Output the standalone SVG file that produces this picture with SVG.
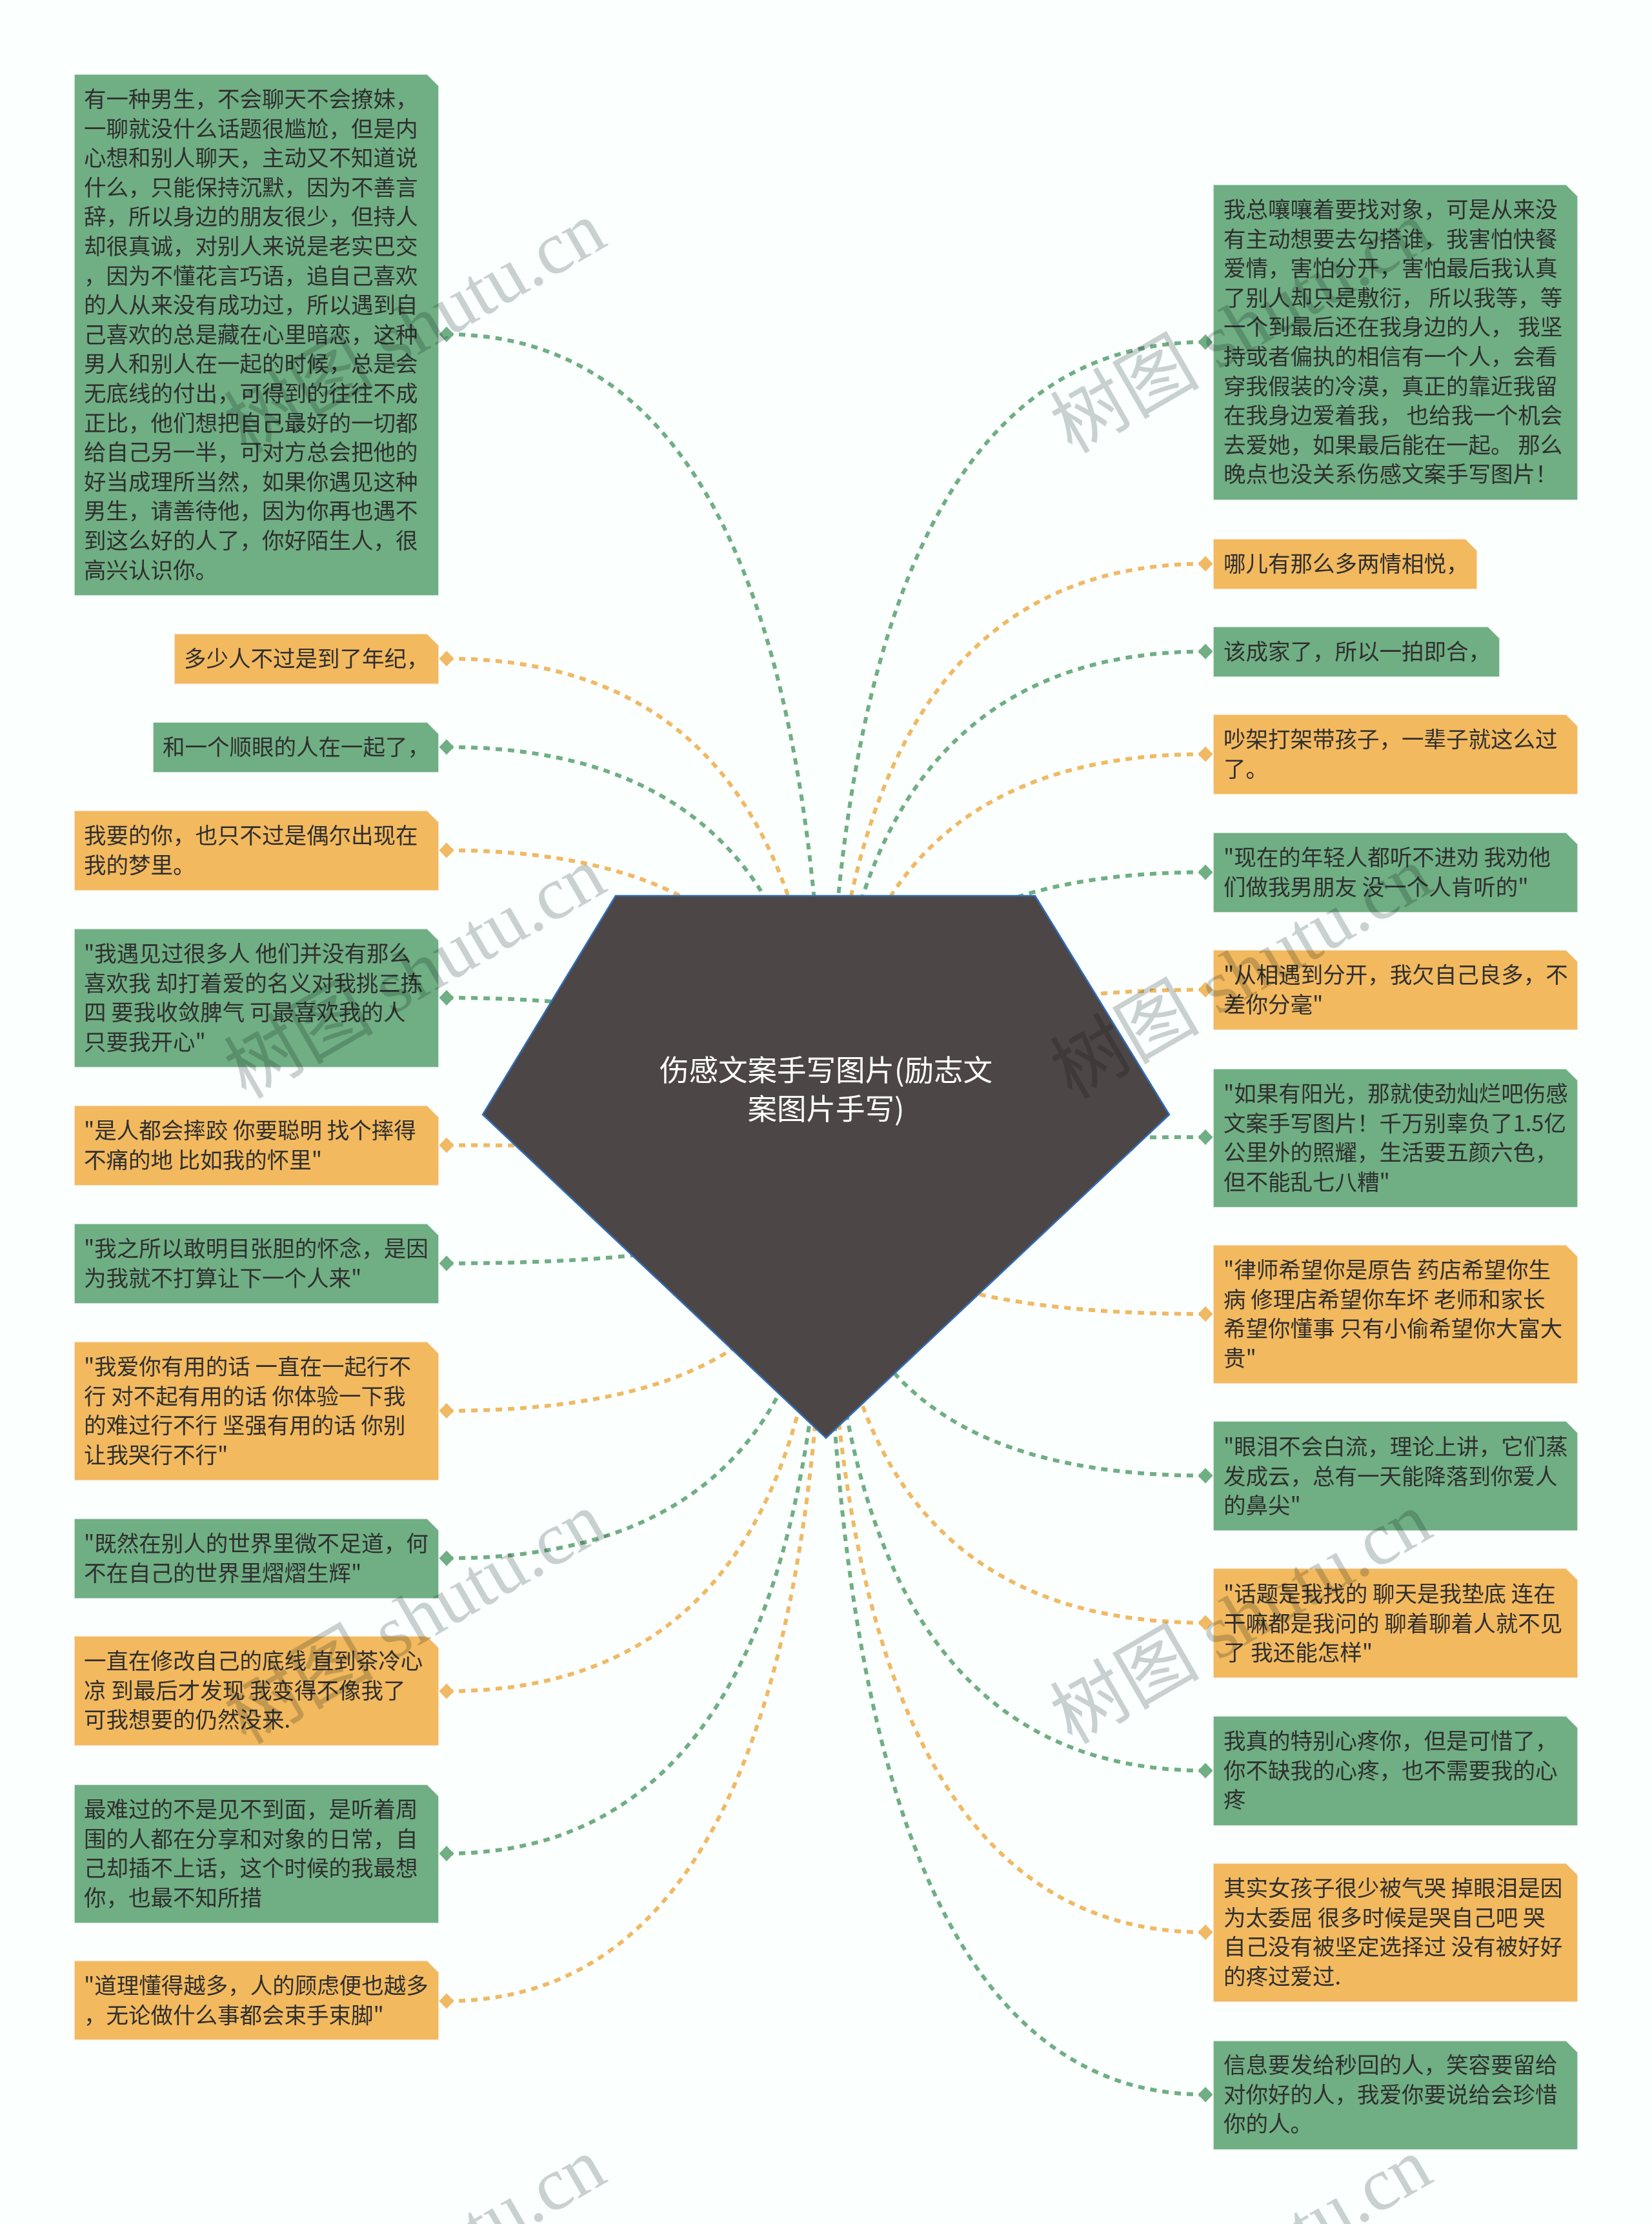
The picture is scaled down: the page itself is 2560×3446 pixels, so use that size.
<svg xmlns="http://www.w3.org/2000/svg" width="2560" height="3446" viewBox="0 0 2560 3446">
<style>
text{font-family:"Noto Sans CJK SC","Liberation Sans",sans-serif}
.t{font-size:34.5px;fill:#2f2f2f}
.g{fill:#70ae84;stroke:#f1f6f3;stroke-width:1.5}
.o{fill:#f2b95f;stroke:#f9f4ea;stroke-width:1.5}
.c{fill:none;stroke-width:6;stroke-dasharray:10 9}
.cg{stroke:#70ae84}
.co{stroke:#f0b964}
.title{font-size:45.5px;fill:#fff;text-anchor:middle}
.wm{font-family:"Liberation Serif","Noto Sans CJK SC",serif;font-size:116px;fill:#cdd1d1;mix-blend-mode:multiply}
</style>
<defs>
<marker id="dg" markerUnits="userSpaceOnUse" markerWidth="24" markerHeight="26" refX="12" refY="13" orient="0"><polygon points="0.5,13 12,1 23.5,13 12,25" fill="#70ae84"/></marker>
<marker id="do" markerUnits="userSpaceOnUse" markerWidth="24" markerHeight="26" refX="12" refY="13" orient="0"><polygon points="0.5,13 12,1 23.5,13 12,25" fill="#f0b964"/></marker>
</defs>
<rect width="2560" height="3446" fill="#fbfffe"/>
<g id="connectors">
<path class="c cg" marker-start="url(#dg)" d="M692 518Q1280 518 1280 1807"/>
<path class="c co" marker-start="url(#do)" d="M692 1020.5Q1280 1020.5 1280 1807"/>
<path class="c cg" marker-start="url(#dg)" d="M692 1157.5Q1280 1157.5 1280 1807"/>
<path class="c co" marker-start="url(#do)" d="M692 1317.5Q1280 1317.5 1280 1807"/>
<path class="c cg" marker-start="url(#dg)" d="M692 1546Q1280 1546 1280 1807"/>
<path class="c co" marker-start="url(#do)" d="M692 1774.5Q1280 1774.5 1280 1807"/>
<path class="c cg" marker-start="url(#dg)" d="M692 1957.5Q1280 1957.5 1280 1807"/>
<path class="c co" marker-start="url(#do)" d="M692 2186Q1280 2186 1280 1807"/>
<path class="c cg" marker-start="url(#dg)" d="M692 2414.5Q1280 2414.5 1280 1807"/>
<path class="c co" marker-start="url(#do)" d="M692 2620.5Q1280 2620.5 1280 1807"/>
<path class="c cg" marker-start="url(#dg)" d="M692 2872Q1280 2872 1280 1807"/>
<path class="c co" marker-start="url(#do)" d="M692 3100.5Q1280 3100.5 1280 1807"/>
<path class="c cg" marker-start="url(#dg)" d="M1868 530Q1280 530 1280 1807"/>
<path class="c co" marker-start="url(#do)" d="M1868 873.5Q1280 873.5 1280 1807"/>
<path class="c cg" marker-start="url(#dg)" d="M1868 1009.5Q1280 1009.5 1280 1807"/>
<path class="c co" marker-start="url(#do)" d="M1868 1168.5Q1280 1168.5 1280 1807"/>
<path class="c cg" marker-start="url(#dg)" d="M1868 1351.5Q1280 1351.5 1280 1807"/>
<path class="c co" marker-start="url(#do)" d="M1868 1533.5Q1280 1533.5 1280 1807"/>
<path class="c cg" marker-start="url(#dg)" d="M1868 1762Q1280 1762 1280 1807"/>
<path class="c co" marker-start="url(#do)" d="M1868 2036Q1280 2036 1280 1807"/>
<path class="c cg" marker-start="url(#dg)" d="M1868 2286.5Q1280 2286.5 1280 1807"/>
<path class="c co" marker-start="url(#do)" d="M1868 2514.5Q1280 2514.5 1280 1807"/>
<path class="c cg" marker-start="url(#dg)" d="M1868 2743.5Q1280 2743.5 1280 1807"/>
<path class="c co" marker-start="url(#do)" d="M1868 2994Q1280 2994 1280 1807"/>
<path class="c cg" marker-start="url(#dg)" d="M1868 3245.5Q1280 3245.5 1280 1807"/>
</g>
<g id="center">
<polygon points="954,1388 1604,1388 1812,1727 1280,2228 748,1727" fill="#4d4646" stroke="#2f6dbc" stroke-width="2.5"/>
<text class="title"><tspan x="1280" y="1675">伤感文案手写图片(励志文</tspan><tspan x="1280" y="1735">案图片手写)</tspan></text>
</g>
<g id="l1"><polygon class="g" points="115,115 662,115 680,133 680,923 115,923"/>
<text class="t"><tspan x="130" y="166">有一种男生，不会聊天不会撩妹，</tspan><tspan x="130" dy="45.6">一聊就没什么话题很尴尬，但是内</tspan><tspan x="130" dy="45.6">心想和别人聊天，主动又不知道说</tspan><tspan x="130" dy="45.6">什么，只能保持沉默，因为不善言</tspan><tspan x="130" dy="45.6">辞，所以身边的朋友很少，但持人</tspan><tspan x="130" dy="45.6">却很真诚，对别人来说是老实巴交</tspan><tspan x="130" dy="45.6">，因为不懂花言巧语，追自己喜欢</tspan><tspan x="130" dy="45.6">的人从来没有成功过，所以遇到自</tspan><tspan x="130" dy="45.6">己喜欢的总是藏在心里暗恋，这种</tspan><tspan x="130" dy="45.6">男人和别人在一起的时候，总是会</tspan><tspan x="130" dy="45.6">无底线的付出，可得到的往往不成</tspan><tspan x="130" dy="45.6">正比，他们想把自己最好的一切都</tspan><tspan x="130" dy="45.6">给自己另一半，可对方总会把他的</tspan><tspan x="130" dy="45.6">好当成理所当然，如果你遇见这种</tspan><tspan x="130" dy="45.6">男生，请善待他，因为你再也遇不</tspan><tspan x="130" dy="45.6">到这么好的人了，你好陌生人，很</tspan><tspan x="130" dy="45.6">高兴认识你。</tspan></text></g>
<g id="l2"><polygon class="o" points="270,982 662,982 680,1000 680,1060 270,1060"/>
<text class="t"><tspan x="285" y="1033">多少人不过是到了年纪，</tspan></text></g>
<g id="l3"><polygon class="g" points="237,1119 662,1119 680,1137 680,1197 237,1197"/>
<text class="t"><tspan x="252" y="1170">和一个顺眼的人在一起了，</tspan></text></g>
<g id="l4"><polygon class="o" points="115,1256 662,1256 680,1274 680,1380 115,1380"/>
<text class="t"><tspan x="130" y="1307">我要的你，也只不过是偶尔出现在</tspan><tspan x="130" dy="45.6">我的梦里。</tspan></text></g>
<g id="l5"><polygon class="g" points="115,1439 662,1439 680,1457 680,1654 115,1654"/>
<text class="t"><tspan x="130" y="1490">"我遇见过很多人 他们并没有那么</tspan><tspan x="130" dy="45.6">喜欢我 却打着爱的名义对我挑三拣</tspan><tspan x="130" dy="45.6">四 要我收敛脾气 可最喜欢我的人</tspan><tspan x="130" dy="45.6">只要我开心"</tspan></text></g>
<g id="l6"><polygon class="o" points="115,1713 662,1713 680,1731 680,1837 115,1837"/>
<text class="t"><tspan x="130" y="1764">"是人都会摔跤 你要聪明 找个摔得</tspan><tspan x="130" dy="45.6">不痛的地 比如我的怀里"</tspan></text></g>
<g id="l7"><polygon class="g" points="115,1896 662,1896 680,1914 680,2020 115,2020"/>
<text class="t"><tspan x="130" y="1947">"我之所以敢明目张胆的怀念，是因</tspan><tspan x="130" dy="45.6">为我就不打算让下一个人来"</tspan></text></g>
<g id="l8"><polygon class="o" points="115,2079 662,2079 680,2097 680,2294 115,2294"/>
<text class="t"><tspan x="130" y="2130">"我爱你有用的话 一直在一起行不</tspan><tspan x="130" dy="45.6">行 对不起有用的话 你体验一下我</tspan><tspan x="130" dy="45.6">的难过行不行 坚强有用的话 你别</tspan><tspan x="130" dy="45.6">让我哭行不行"</tspan></text></g>
<g id="l9"><polygon class="g" points="115,2353 662,2353 680,2371 680,2477 115,2477"/>
<text class="t"><tspan x="130" y="2404">"既然在别人的世界里微不足道，何</tspan><tspan x="130" dy="45.6">不在自己的世界里熠熠生辉"</tspan></text></g>
<g id="l10"><polygon class="o" points="115,2535 662,2535 680,2553 680,2705 115,2705"/>
<text class="t"><tspan x="130" y="2586">一直在修改自己的底线 直到茶冷心</tspan><tspan x="130" dy="45.6">凉 到最后才发现 我变得不像我了</tspan><tspan x="130" dy="45.6">可我想要的仍然没来.</tspan></text></g>
<g id="l11"><polygon class="g" points="115,2765 662,2765 680,2783 680,2980 115,2980"/>
<text class="t"><tspan x="130" y="2816">最难过的不是见不到面，是听着周</tspan><tspan x="130" dy="45.6">围的人都在分享和对象的日常，自</tspan><tspan x="130" dy="45.6">己却插不上话，这个时候的我最想</tspan><tspan x="130" dy="45.6">你，也最不知所措</tspan></text></g>
<g id="l12"><polygon class="o" points="115,3038 662,3038 680,3056 680,3161 115,3161"/>
<text class="t"><tspan x="130" y="3089">"道理懂得越多，人的顾虑便也越多</tspan><tspan x="130" dy="45.6">，无论做什么事都会束手束脚"</tspan></text></g>
<g id="r1"><polygon class="g" points="1880,286 2427,286 2445,304 2445,775 1880,775"/>
<text class="t"><tspan x="1896" y="337">我总嚷嚷着要找对象，可是从来没</tspan><tspan x="1896" dy="45.6">有主动想要去勾搭谁，我害怕快餐</tspan><tspan x="1896" dy="45.6">爱情，害怕分开，害怕最后我认真</tspan><tspan x="1896" dy="45.6">了别人却只是敷衍， 所以我等，等</tspan><tspan x="1896" dy="45.6">一个到最后还在我身边的人， 我坚</tspan><tspan x="1896" dy="45.6">持或者偏执的相信有一个人，会看</tspan><tspan x="1896" dy="45.6">穿我假装的冷漠，真正的靠近我留</tspan><tspan x="1896" dy="45.6">在我身边爱着我， 也给我一个机会</tspan><tspan x="1896" dy="45.6">去爱她，如果最后能在一起。 那么</tspan><tspan x="1896" dy="45.6">晚点也没关系伤感文案手写图片！</tspan></text></g>
<g id="r2"><polygon class="o" points="1880,835 2271,835 2289,853 2289,913 1880,913"/>
<text class="t"><tspan x="1896" y="886">哪儿有那么多两情相悦，</tspan></text></g>
<g id="r3"><polygon class="g" points="1880,971 2306,971 2324,989 2324,1049 1880,1049"/>
<text class="t"><tspan x="1896" y="1022">该成家了，所以一拍即合，</tspan></text></g>
<g id="r4"><polygon class="o" points="1880,1107 2427,1107 2445,1125 2445,1231 1880,1231"/>
<text class="t"><tspan x="1896" y="1158">吵架打架带孩子，一辈子就这么过</tspan><tspan x="1896" dy="45.6">了。</tspan></text></g>
<g id="r5"><polygon class="g" points="1880,1290 2427,1290 2445,1308 2445,1414 1880,1414"/>
<text class="t"><tspan x="1896" y="1341">"现在的年轻人都听不进劝 我劝他</tspan><tspan x="1896" dy="45.6">们做我男朋友 没一个人肯听的"</tspan></text></g>
<g id="r6"><polygon class="o" points="1880,1472 2427,1472 2445,1490 2445,1596 1880,1596"/>
<text class="t"><tspan x="1896" y="1523">"从相遇到分开，我欠自己良多，不</tspan><tspan x="1896" dy="45.6">差你分毫"</tspan></text></g>
<g id="r7"><polygon class="g" points="1880,1656 2427,1656 2445,1674 2445,1871 1880,1871"/>
<text class="t"><tspan x="1896" y="1707">"如果有阳光，那就使劲灿烂吧伤感</tspan><tspan x="1896" dy="45.6">文案手写图片！千万别辜负了1.5亿</tspan><tspan x="1896" dy="45.6">公里外的照耀，生活要五颜六色，</tspan><tspan x="1896" dy="45.6">但不能乱七八糟"</tspan></text></g>
<g id="r8"><polygon class="o" points="1880,1929 2427,1929 2445,1947 2445,2144 1880,2144"/>
<text class="t"><tspan x="1896" y="1980">"律师希望你是原告 药店希望你生</tspan><tspan x="1896" dy="45.6">病 修理店希望你车坏 老师和家长</tspan><tspan x="1896" dy="45.6">希望你懂事 只有小偷希望你大富大</tspan><tspan x="1896" dy="45.6">贵"</tspan></text></g>
<g id="r9"><polygon class="g" points="1880,2202 2427,2202 2445,2220 2445,2372 1880,2372"/>
<text class="t"><tspan x="1896" y="2254">"眼泪不会白流，理论上讲，它们蒸</tspan><tspan x="1896" dy="45.6">发成云，总有一天能降落到你爱人</tspan><tspan x="1896" dy="45.6">的鼻尖"</tspan></text></g>
<g id="r10"><polygon class="o" points="1880,2430 2427,2430 2445,2448 2445,2600 1880,2600"/>
<text class="t"><tspan x="1896" y="2482">"话题是我找的 聊天是我垫底 连在</tspan><tspan x="1896" dy="45.6">干嘛都是我问的 聊着聊着人就不见</tspan><tspan x="1896" dy="45.6">了 我还能怎样"</tspan></text></g>
<g id="r11"><polygon class="g" points="1880,2659 2427,2659 2445,2677 2445,2829 1880,2829"/>
<text class="t"><tspan x="1896" y="2710">我真的特别心疼你，但是可惜了，</tspan><tspan x="1896" dy="45.6">你不缺我的心疼，也不需要我的心</tspan><tspan x="1896" dy="45.6">疼</tspan></text></g>
<g id="r12"><polygon class="o" points="1880,2887 2427,2887 2445,2905 2445,3102 1880,3102"/>
<text class="t"><tspan x="1896" y="2938">其实女孩子很少被气哭 掉眼泪是因</tspan><tspan x="1896" dy="45.6">为太委屈 很多时候是哭自己吧 哭</tspan><tspan x="1896" dy="45.6">自己没有被坚定选择过 没有被好好</tspan><tspan x="1896" dy="45.6">的疼过爱过.</tspan></text></g>
<g id="r13"><polygon class="g" points="1880,3162 2427,3162 2445,3180 2445,3331 1880,3331"/>
<text class="t"><tspan x="1896" y="3212">信息要发给秒回的人，笑容要留给</tspan><tspan x="1896" dy="45.6">对你好的人，我爱你要说给会珍惜</tspan><tspan x="1896" dy="45.6">你的人。</tspan></text></g>
<g id="watermark">
<text class="wm" transform="translate(381 704) rotate(-30)">树图 shutu.cn</text>
<text class="wm" transform="translate(381 1704) rotate(-30)">树图 shutu.cn</text>
<text class="wm" transform="translate(381 2704) rotate(-30)">树图 shutu.cn</text>
<text class="wm" transform="translate(381 3704) rotate(-30)">树图 shutu.cn</text>
<text class="wm" transform="translate(1661 704) rotate(-30)">树图 shutu.cn</text>
<text class="wm" transform="translate(1661 1704) rotate(-30)">树图 shutu.cn</text>
<text class="wm" transform="translate(1661 2704) rotate(-30)">树图 shutu.cn</text>
<text class="wm" transform="translate(1661 3704) rotate(-30)">树图 shutu.cn</text>
</g>
</svg>
